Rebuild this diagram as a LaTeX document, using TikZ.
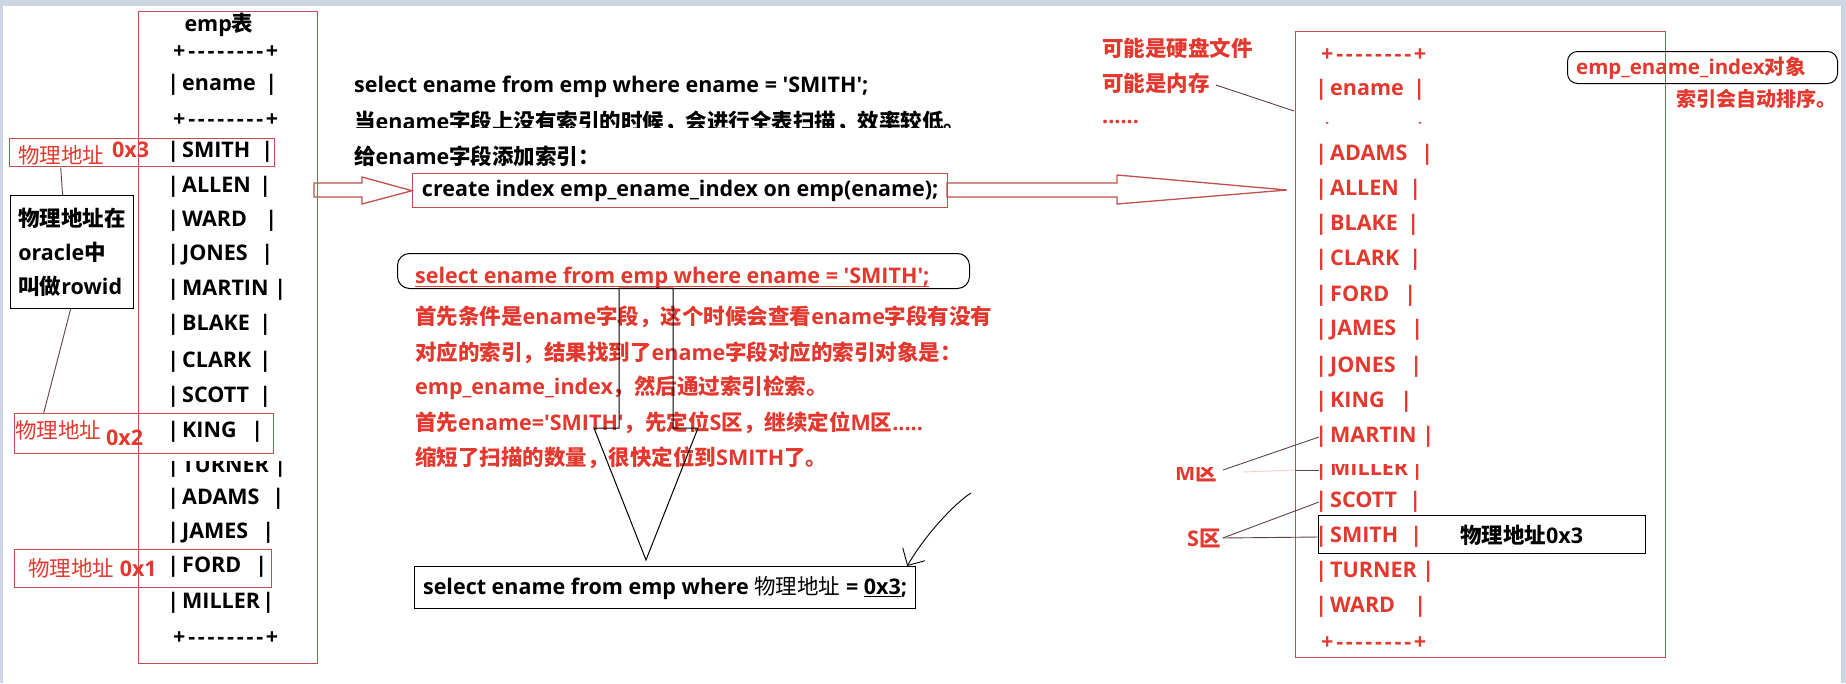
\documentclass[tikz,border=0pt]{standalone}
\usepackage{fontspec}
\setmainfont{Open Sans}
\newfontfamily\cjkf{Noto Sans CJK SC}
\usetikzlibrary{arrows.meta}
\definecolor{boxred}{RGB}{192,80,77}
\definecolor{txtred}{RGB}{226,56,46}
\definecolor{bgblue}{RGB}{204,213,226}
\definecolor{lnk}{RGB}{95,65,65}
\newcommand\zh[1]{{\cjkf #1}}
\newcommand\fsz{\fontsize{21.5}{26}\selectfont}
\newcommand\q{\textquotesingle}
\newcommand\vb{\makebox[4pt]{|}}
\newcommand\dashrow{\makebox[105pt]{+\hfill-\hfill-\hfill-\hfill-\hfill-\hfill-\hfill-\hfill-\hfill+}}
\newcommand\erow[2]{\makebox[#1pt][l]{\vb\hspace{7pt}#2\hfill\vb}}
\newcommand\thul[1]{\leavevmode\setbox0\hbox{#1}\rlap{\vrule width\wd0 height -2.2pt depth 3.4pt}\box0}
\newcommand\lrow[4]{\node[cell] (#1) at (171,#2) {\erow{#3}{#4}};}
\newcommand\rrow[4]{\node[rcell] (#1) at (1319,#2) {\erow{#3}{#4}};}
\tikzset{
  cell/.style={anchor=west, inner sep=0pt, font=\bfseries\fsz},
  rcell/.style={cell, text=txtred},
  redbox/.style={draw=boxred, line width=1.4pt, inner sep=0pt, anchor=north west},
  blkbox/.style={draw=black, line width=1.2pt, inner sep=0pt, anchor=north west},
  lnkline/.style={draw=lnk, line width=0.9pt},
  harrow/.style={draw=boxred, line width=1.3pt, fill=white},
}
\begin{document}
\begin{tikzpicture}[x=1pt, y=-1pt]
\useasboundingbox (0,0) rectangle (1846,683);
\fill[bgblue] (0,0) rectangle (1846,683);
\fill[white] (3,6) rectangle (1841,683);

% hollow arrows (drawn first)
\node[redbox, minimum width=535pt, minimum height=34pt, font=\bfseries\fsz] (create) at (412,173) {create index emp\_ename\_index on emp(ename);};
\draw[harrow] (314,183) -- (362,183) -- (362,177) -- (create.west) -- (362,204) -- (362,197) -- (314,197) -- cycle;
\draw[harrow] (947,183) -- (1117,183) -- (1117,175) -- (1287,190) -- (1117,204) -- (1117,197) -- (947,197) -- cycle;
\node[redbox, minimum width=535pt, minimum height=34pt] (createframe) at (412,173) {};

% left table
\node[redbox, minimum width=179pt, minimum height=652pt] (ltab) at (138,11) {};
\node[font=\bfseries\fsz, inner sep=0pt] (emptitle) at (219,25) {emp\zh{表}};
\node[cell] (l0) at (173,52) {\dashrow};
\lrow{lename}{85}{102}{ename}
\node[cell] (l2) at (173,120) {\dashrow};
\lrow{lSMITH}{152}{98}{SMITH}
\lrow{lALLEN}{187}{96}{ALLEN}
\lrow{lWARD}{221}{102}{WARD}
\lrow{lJONES}{255}{98}{JONES}
\lrow{lMARTIN}{290}{111}{MARTIN}
\lrow{lBLAKE}{325}{96}{BLAKE}
\lrow{lCLARK}{362}{96}{CLARK}
\lrow{lSCOTT}{397}{96}{SCOTT}
\lrow{lKING}{432}{88}{KING}
\begin{scope}
\clip (150,461) rectangle (300,490);
\lrow{lTURNER}{467}{111}{TURNER}
\end{scope}
\lrow{lADAMS}{499}{109}{ADAMS}
\lrow{lJAMES}{533}{99}{JAMES}
\lrow{lFORD}{567}{92}{FORD}
\lrow{lMILLER}{603}{99}{MILLER}
\node[cell] (l17) at (173,638) {\dashrow};

% physical address labels
\node[redbox, minimum width=265pt, minimum height=28pt] (addr3) at (9,138) {};
\node[rcell, font=\fsz] (a3t) at (18,155) {\zh{物理地址}};
\node[rcell] (a3n) at (112,150) {0x3};
\node[redbox, minimum width=259pt, minimum height=40pt] (addr2) at (14,413) {};
\node[rcell, font=\fsz] (a2t) at (15,430) {\zh{物理地址}};
\node[rcell] (a2n) at (106,438) {0x2};
\node[redbox, minimum width=257pt, minimum height=38pt] (addr1) at (14,549) {};
\node[rcell, font=\fsz] (a1t) at (28,568) {\zh{物理地址} \textbf{0x1}};

\node[blkbox, minimum width=123pt, minimum height=113pt, align=left,
      font=\bfseries\fontsize{21.5}{34}\selectfont] (rowid) at (10,195)
      {\zh{物理地址在}\\oracle\zh{中}\\\zh{叫做}rowid};
\draw[lnkline] ([xshift=-9.5pt]rowid.north) -- ([xshift=-81.5pt]addr3.south);
\draw[lnkline] ([xshift=-1.5pt]rowid.south) -- ([xshift=-100.5pt]addr2.north);

% middle texts
\node[cell] (sel1) at (354,87) {select ename from emp where ename = \q SMITH\q;};
\begin{scope}
\clip (340,100) rectangle (1000,127);
\node[cell] (note1) at (354,122) {\zh{当}ename\zh{字段上没有索引的时候，会进行全表扫描，效率较低。}};
\end{scope}
\node[cell] (note2) at (354,156) {\zh{给}ename\zh{字段添加索引：}};

\node[draw=black, line width=1pt, rounded corners=12pt, minimum width=572pt, minimum height=35pt, anchor=north west, inner sep=0pt] (oval) at (397,253) {};
\node[rcell] (rsel) at (415,278) {\thul{select ename from emp where ename = \q SMITH\q;}};
\node[rcell] (rl1) at (415,317) {\zh{首先条件是}ename\zh{字段，这个时候会查看}ename\zh{字段有没有}};
\node[rcell] (rl2) at (415,353) {\zh{对应的索引，结果找到了}ename\zh{字段对应的索引对象是：}};
\node[rcell] (rl3) at (415,388) {emp\_ename\_index\zh{，然后通过索引检索。}};
\node[rcell] (rl4) at (415,423) {\zh{首先}ename=\q SMITH\q\zh{，先定位}S\zh{区，继续定位}M\zh{区}.....};
\node[rcell] (rl5) at (415,458) {\zh{缩短了扫描的数量，很快定位到}SMITH\zh{了。}};

\draw[line width=1pt] (619,288) -- (619,428) -- (594,428) -- (646,560) -- (698,428) -- (673,428) -- (673,288) -- cycle;

\node[blkbox, minimum width=501pt, minimum height=42pt, font=\bfseries\fsz] (bbox) at (414,566)
  {select ename from emp where {\mdseries\zh{物理地址}} = \thul{0x3};};
\coordinate (hstart) at (971,493);
\draw[line width=0.9pt, -{Straight Barb[angle=90:18pt]}] (hstart) .. controls (955,503) and (925,535) .. ([xshift=-9pt]bbox.north east);

% right side
\node[rcell] (disk) at (1102,48) {\zh{可能是硬盘文件}};
\node[rcell] (mem) at (1102,83) {\zh{可能是内存}};
\node[rcell, anchor=south west] (dots) at (1102,124) {......};
\node[redbox, minimum width=370pt, minimum height=626pt] (rtab) at (1295,31) {};
\coordinate (memend) at (1294,111);
\draw[lnkline] ([xshift=6pt,yshift=-2pt]mem.east) -- (memend);

\node[rcell] (r0) at (1321,55) {\dashrow};
\rrow{rename}{90}{102}{ename}
\begin{scope}
\clip (1300,122.5) rectangle (1450,135);
\node[rcell] (r2) at (1321,120) {\dashrow};
\end{scope}
\rrow{rADAMS}{155}{110}{ADAMS}
\rrow{rALLEN}{190}{98}{ALLEN}
\rrow{rBLAKE}{225}{96}{BLAKE}
\rrow{rCLARK}{260}{98}{CLARK}
\rrow{rFORD}{296}{93}{FORD}
\rrow{rJAMES}{330}{100}{JAMES}
\rrow{rJONES}{367}{99}{JONES}
\rrow{rKING}{402}{89}{KING}
\rrow{rMARTIN}{437}{111}{MARTIN}
\begin{scope}
\clip (1300,464) rectangle (1450,490);
\rrow{rMILLER}{470}{100}{MILLER}
\end{scope}
\rrow{rSCOTT}{502}{98}{SCOTT}
\rrow{rSMITH}{537}{99}{SMITH}
\rrow{rTURNER}{572}{111}{TURNER}
\rrow{rWARD}{607}{103}{WARD}
\node[rcell] (r17) at (1321,643) {\dashrow};

\node[blkbox, minimum width=327pt, minimum height=38pt] (smithbox) at (1318,515) {};
\node[cell] (smithaddr) at (1460,535) {\zh{物理地址}0x3};

\begin{scope}
\clip (1160,467) rectangle (1240,490);
\node[rcell] (Mqu) at (1175,472) {M\zh{区}};
\end{scope}
\node[rcell] (Squ) at (1187,538) {S\zh{区}};
\draw[lnkline] (1223,470) -- (rMARTIN.west);
\draw[draw=txtred!25, line width=0.9pt] (1243,472) -- (rtab.west |- rMILLER.west);
\draw[lnkline] (rtab.west |- rMILLER.west) -- (rMILLER.west);
\draw[lnkline] ([xshift=2pt]Squ.east) -- (rSCOTT.west);
\draw[lnkline] ([xshift=2pt]Squ.east) -- (rSMITH.west);

\node[draw=black, line width=1pt, rounded corners=10pt, minimum width=270pt, minimum height=32pt, anchor=north west, inner sep=0pt] (idxoval) at (1567,51) {};
\node[rcell, font=\bfseries\fontsize{20.5}{24}\selectfont] (idxname) at (1576,68) {emp\_ename\_index\zh{对象}};
\node[rcell, font=\bfseries\fontsize{20}{24}\selectfont] (idxsort) at (1676,99) {\zh{索引会自动排序。}};
\end{tikzpicture}
\end{document}
